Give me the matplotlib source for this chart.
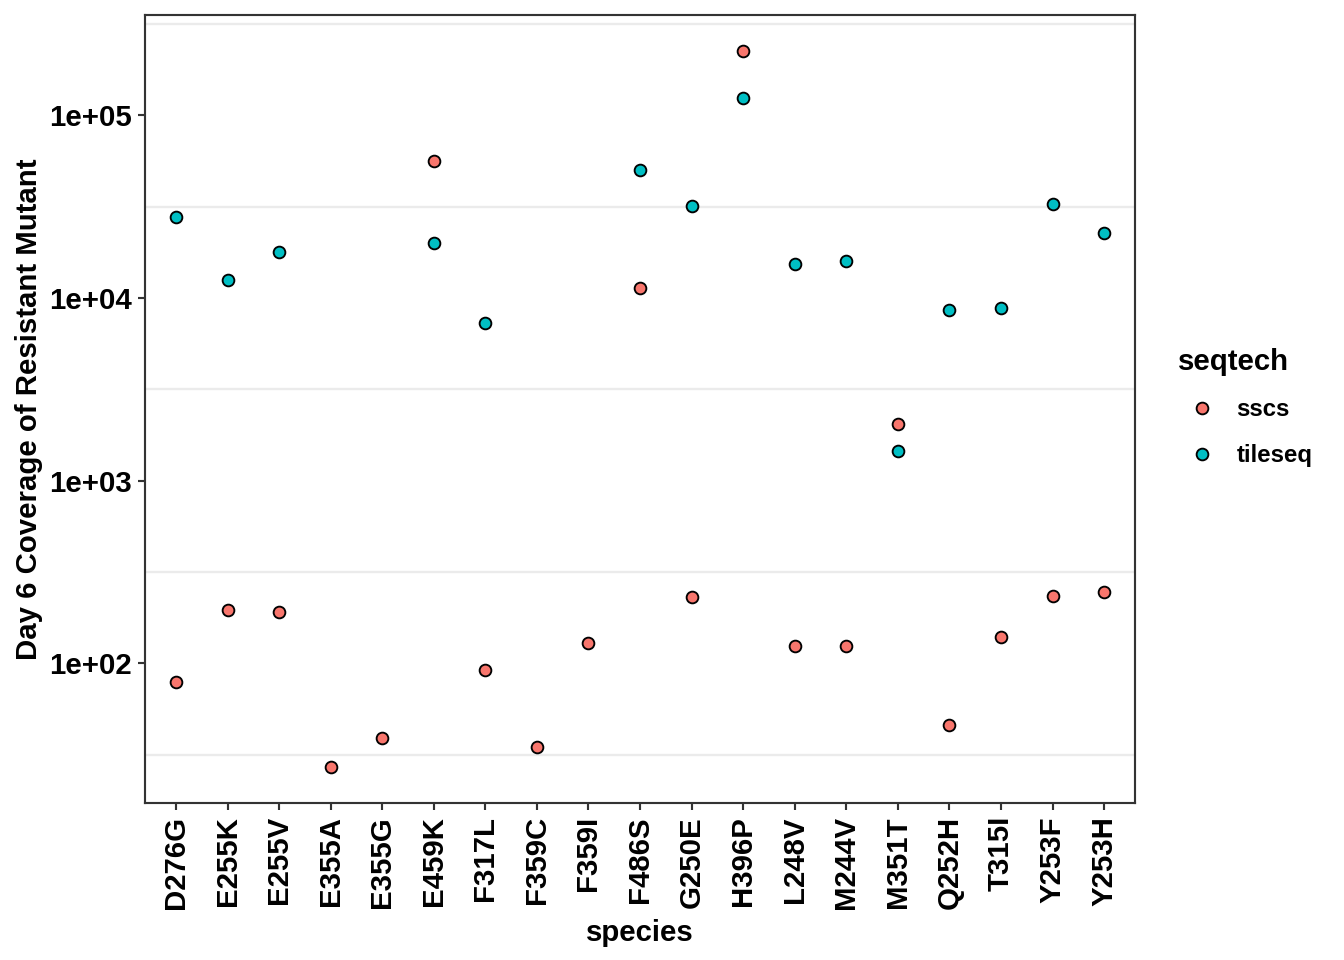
import numpy as np
import matplotlib
matplotlib.use("Agg")
import matplotlib.pyplot as plt

plt.rcParams['font.family'] = ['Liberation Sans', 'DejaVu Sans']

# mutant species (x categories)
species = ["D276G", "E255K", "E255V", "E355A", "E355G", "E459K", "F317L",
           "F359C", "F359I", "F486S", "G250E", "H396P", "L248V", "M244V",
           "M351T", "Q252H", "T315I", "Y253F", "Y253H"]

# day 6 coverage, sscs
sscs_species = species
sscs_cov = [79, 197, 190, 27, 39, 56000, 92, 35, 130, 11300, 232, 226000,
            125, 125, 2050, 46, 140, 235, 247]

# day 6 coverage, tileseq
tile_species = ["D276G", "E255K", "E255V", "E459K", "F317L", "F486S", "G250E",
                "H396P", "L248V", "M244V", "M351T", "Q252H", "T315I", "Y253F",
                "Y253H"]
tile_cov = [27700, 12500, 17800, 20000, 7300, 50500, 31800, 124000, 15300,
            15900, 1460, 8600, 8800, 32600, 22600]

col_sscs = "#F8766D"
col_tile = "#00BFC4"

fig = plt.figure(figsize=(7, 5), dpi=192)
ax = fig.add_axes([0.1079, 0.1635, 0.8445 - 0.1079, 0.9844 - 0.1635])

xpos = {s: i for i, s in enumerate(species)}

ax.set_yscale('log')

# half-decade gridlines only (as in the reference)
all_cov = np.array(sscs_cov + tile_cov, dtype=float)
lo, hi = np.log10(all_cov.min()), np.log10(all_cov.max())
pad = (hi - lo) * 0.05
ylo, yhi = 10 ** (lo - pad), 10 ** (hi + pad)
for k in np.arange(0.5, 7, 1.0):
    ax.axhline(10 ** k, color="#EBEBEB", lw=0.9, zorder=0)

ms = 4.4
ax.plot([xpos[s] for s in sscs_species], sscs_cov, 'o', ms=ms,
        mfc=col_sscs, mec='black', mew=0.7, ls='none', label='sscs', zorder=3)
ax.plot([xpos[s] for s in tile_species], tile_cov, 'o', ms=ms,
        mfc=col_tile, mec='black', mew=0.7, ls='none', label='tileseq', zorder=3)

ax.set_xlim(-0.6, len(species) - 1 + 0.6)
ax.set_ylim(ylo, yhi)

ax.set_xticks(range(len(species)))
ax.set_xticklabels(species, rotation=90, fontsize=11, fontweight='bold')
ax.set_yticks([1e2, 1e3, 1e4, 1e5])
ax.set_yticklabels(["1e+02", "1e+03", "1e+04", "1e+05"], fontsize=11,
                   fontweight='bold')
ax.yaxis.set_minor_locator(matplotlib.ticker.NullLocator())
ax.tick_params(axis='both', length=2.75, width=0.8, color='#333333',
               labelcolor='black', pad=2.2)

for sp in ax.spines.values():
    sp.set_color('#333333')
    sp.set_linewidth(0.8)

ax.set_xlabel("species", fontsize=11, fontweight='bold', labelpad=3.6)
ax.set_ylabel("Day 6 Coverage of Resistant Mutant", fontsize=11,
              fontweight='bold', labelpad=2.4)

leg = fig.legend(loc='upper left', bbox_to_anchor=(0.869, 0.648),
                 frameon=False, title="seqtech", fontsize=9,
                 title_fontproperties={'size': 11, 'weight': 'bold'},
                 handletextpad=0.45, labelspacing=0.95, borderaxespad=0)
leg._legend_box.align = "left"
for t in leg.get_texts():
    t.set_fontweight('bold')

fig.savefig("out.png", dpi=192)
